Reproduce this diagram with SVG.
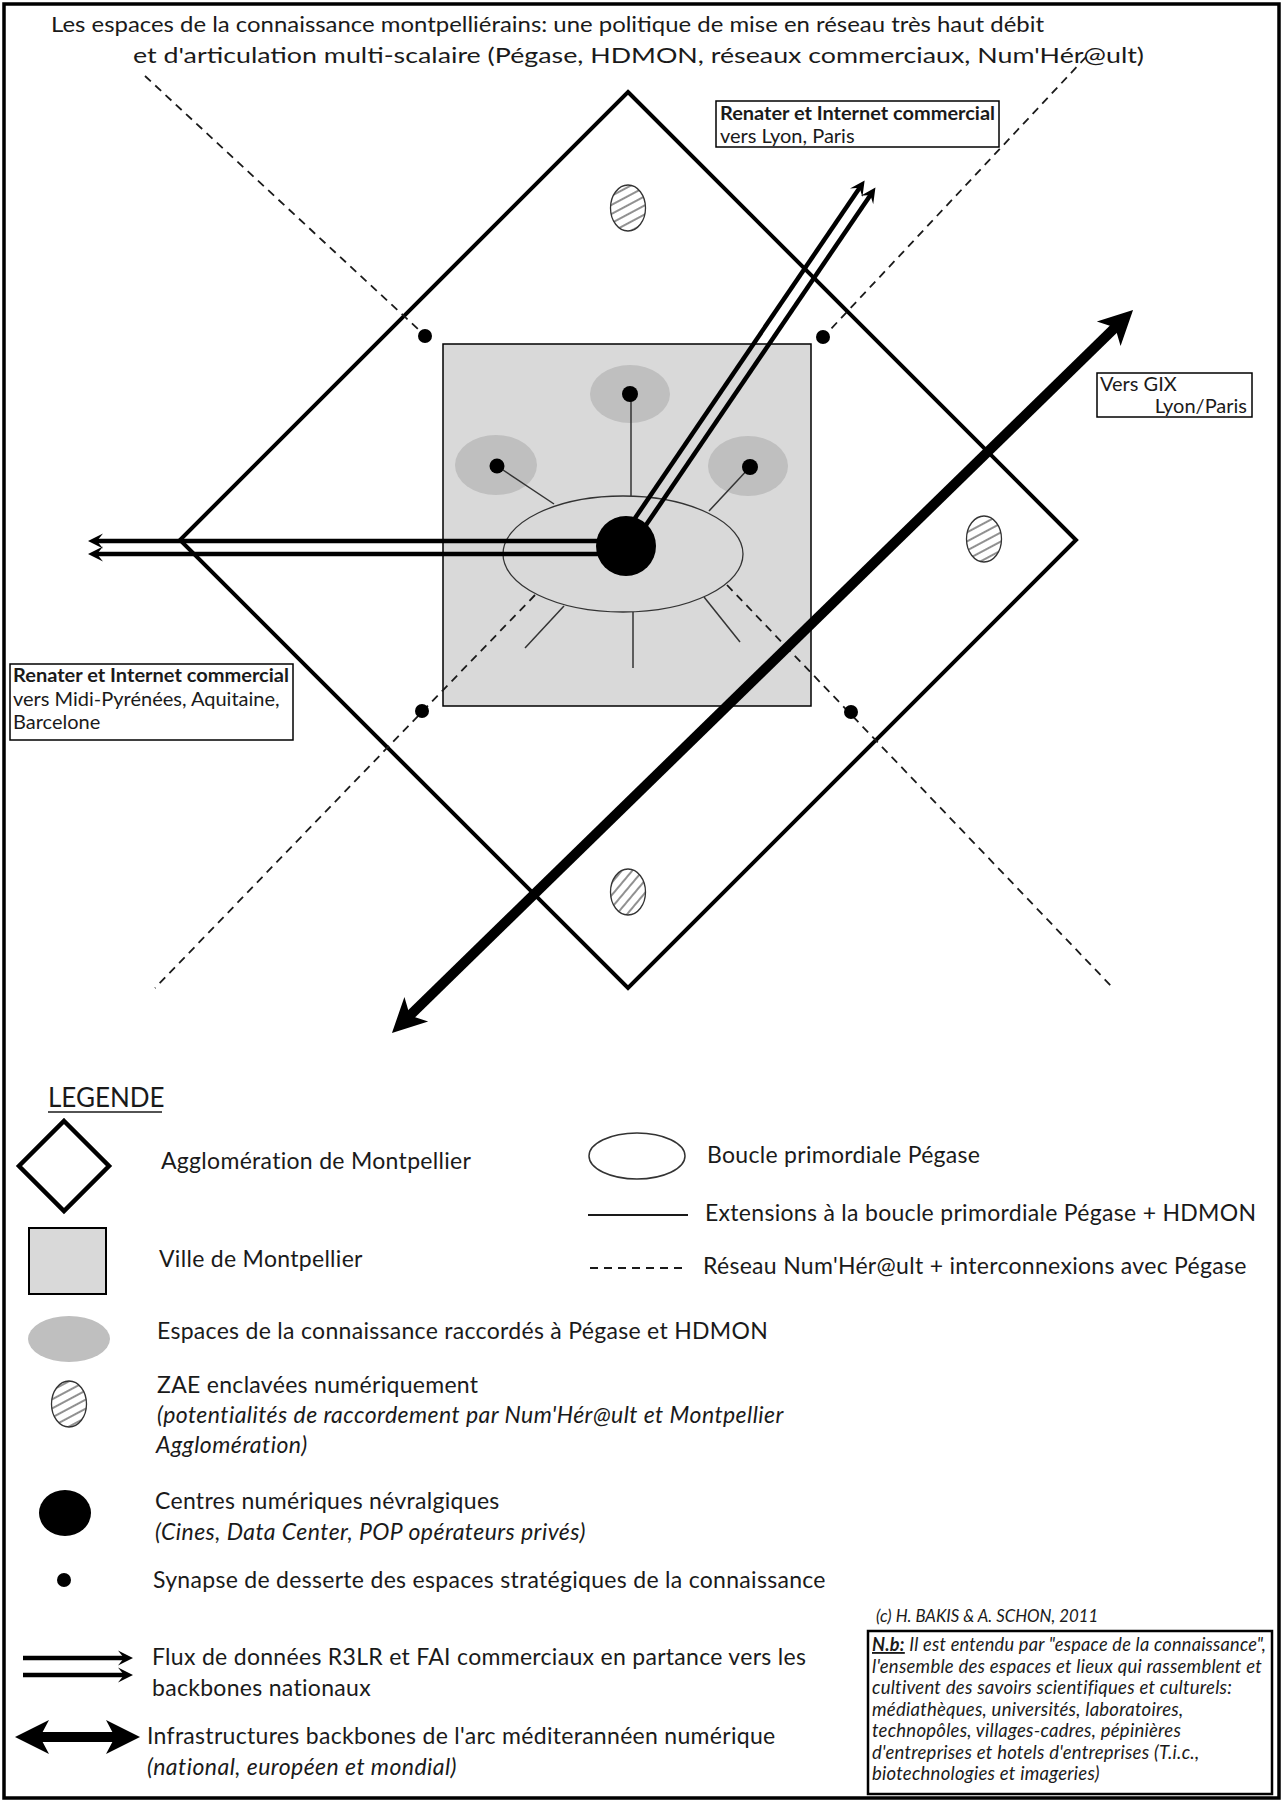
<svg xmlns="http://www.w3.org/2000/svg" width="1285" height="1802" viewBox="0 0 1285 1802">
<style>
text{font-family:Lato,"Open Sans","Liberation Sans",sans-serif;fill:#1a1a1a}
.t{font-size:21.5px}
.l{font-size:23px;letter-spacing:0.3px}
.li{font-size:23px;font-style:italic;letter-spacing:0.45px}
.b{font-size:20px}
.bb{font-size:19.5px;font-weight:bold}
.n{font-size:18.5px;font-style:italic;letter-spacing:0.25px}
.dash{stroke:#1a1a1a;stroke-width:1.8;stroke-dasharray:8 6;fill:none}
.spoke{stroke:#333;stroke-width:1.5}
.flux{stroke:#000;stroke-width:4.5;marker-end:url(#hs)}
.bone{stroke:#000;stroke-width:10;marker-start:url(#hl);marker-end:url(#hl)}
.zaeA{fill:url(#hatchA);stroke:#333;stroke-width:1.3}
.zaeB{fill:url(#hatchB);stroke:#333;stroke-width:1.3}
.ks{fill:#bfbfbf}
.box{fill:#fff;stroke:#000;stroke-width:1.5}
.dot{fill:#000}
</style>
<defs>
<pattern id="hatchA" patternUnits="userSpaceOnUse" width="8" height="8" patternTransform="rotate(-28)"><rect width="8" height="8" fill="#fff"/><line x1="0" y1="4" x2="8" y2="4" stroke="#222" stroke-width="1"/></pattern>
<pattern id="hatchB" patternUnits="userSpaceOnUse" width="8" height="8" patternTransform="rotate(-50)"><rect width="8" height="8" fill="#fff"/><line x1="0" y1="4" x2="8" y2="4" stroke="#222" stroke-width="1"/></pattern>
<marker id="hs" markerUnits="userSpaceOnUse" viewBox="-16 -9 18 18" markerWidth="18" markerHeight="18" refX="-7" refY="0" orient="auto"><path d="M0,0 L-15,-7.5 L-9,0 L-15,7.5 Z" fill="#000"/></marker>
<marker id="hl" markerUnits="userSpaceOnUse" viewBox="-36 -19 38 38" markerWidth="38" markerHeight="38" refX="-22" refY="0" orient="auto-start-reverse"><path d="M0,0 L-34,-17 L-25,0 L-34,17 Z" fill="#000"/></marker>
</defs>

<rect x="4" y="4" width="1275" height="1794" fill="#fff" stroke="#000" stroke-width="3.5"/>

<g id="title">
<text class="t" x="51" y="32" textLength="993" lengthAdjust="spacingAndGlyphs">Les espaces de la connaissance montpelliérains: une politique de mise en réseau très haut débit</text>
<text class="t" x="133" y="63" textLength="1011" lengthAdjust="spacingAndGlyphs">et d'articulation multi-scalaire (Pégase, HDMON, réseaux commerciaux, Num'Hér@ult)</text>
</g>

<g id="agglomeration">
<polygon points="628,92 1076,540 628,988 180,540" fill="none" stroke="#000" stroke-width="4"/>
</g>

<g id="ville">
<rect x="443" y="344" width="368" height="362" fill="#d9d9d9" stroke="#000" stroke-width="1.5"/>
</g>

<g id="espaces-connaissance">
<ellipse class="ks" cx="630" cy="394" rx="40" ry="29"/>
<ellipse class="ks" cx="496" cy="465" rx="41" ry="30"/>
<ellipse class="ks" cx="748" cy="466" rx="40" ry="30"/>
</g>

<g id="boucle-pegase">
<ellipse cx="623" cy="554" rx="120" ry="58" fill="#d9d9d9" stroke="#333" stroke-width="1.3"/>
</g>

<g id="connectors">
<line class="spoke" x1="631" y1="394" x2="631" y2="496"/>
<line class="spoke" x1="497" y1="466" x2="554" y2="504"/>
<line class="spoke" x1="750" y1="467" x2="709" y2="511"/>
<line class="spoke" x1="564" y1="606" x2="525" y2="648"/>
<line class="spoke" x1="633" y1="612" x2="633" y2="668"/>
<line class="spoke" x1="704" y1="597" x2="740" y2="642"/>
<line class="dash" x1="145" y1="76" x2="419" y2="330"/>
<line class="dash" x1="1086" y1="57" x2="829" y2="331"/>
<line class="dash" x1="535" y1="595" x2="155" y2="988"/>
<line class="dash" x1="727" y1="585" x2="1113" y2="988"/>
<line class="flux" x1="610" y1="541" x2="95" y2="541"/>
<line class="flux" x1="610" y1="554" x2="95" y2="554"/>
<line class="flux" x1="622.6" y1="536.4" x2="860.7" y2="186.2"/>
<line class="flux" x1="633.4" y1="543.6" x2="871.5" y2="193.4"/>
<line class="bone" x1="407.7" y1="1017.6" x2="1117.3" y2="325.4"/>
</g>

<g id="centre-numerique">
<circle class="dot" cx="626" cy="546" r="30"/>
</g>

<g id="points-connaissance">
<circle class="dot" cx="630" cy="394" r="8"/>
<circle class="dot" cx="497" cy="466" r="7.5"/>
<circle class="dot" cx="750" cy="467" r="8"/>
</g>

<g id="synapses">
<circle class="dot" cx="425" cy="336" r="7"/>
<circle class="dot" cx="823" cy="337" r="7"/>
<circle class="dot" cx="422" cy="711" r="7"/>
<circle class="dot" cx="851" cy="712" r="7"/>
</g>

<g id="zae">
<ellipse class="zaeA" cx="628" cy="208" rx="17.5" ry="23"/>
<ellipse class="zaeA" cx="984" cy="539" rx="17.5" ry="23"/>
<ellipse class="zaeB" cx="628" cy="892" rx="17.5" ry="23"/>
</g>

<g id="label-lyon-paris">
<rect class="box" x="716" y="101" width="283" height="46"/>
<text class="bb" x="720" y="120" textLength="275" lengthAdjust="spacingAndGlyphs">Renater et Internet commercial</text>
<text class="b" x="720" y="143">vers Lyon, Paris</text>
</g>

<g id="label-gix">
<rect class="box" x="1097" y="373" width="155" height="44"/>
<text class="b" x="1100" y="391">Vers GIX</text>
<text class="b" x="1247" y="413" text-anchor="end">Lyon/Paris</text>
</g>

<g id="label-sud-ouest">
<rect class="box" x="10" y="664" width="283" height="76"/>
<text class="bb" x="13" y="682" textLength="276" lengthAdjust="spacingAndGlyphs">Renater et Internet commercial</text>
<text class="b" x="13" y="706">vers Midi-Pyrénées, Aquitaine,</text>
<text class="b" x="13" y="729">Barcelone</text>
</g>

<g id="legende">
<text x="48" y="1107" style="font-size:26px">LEGENDE</text>
<line x1="48" y1="1112" x2="162" y2="1112" stroke="#1a1a1a" stroke-width="1.5"/>

<polygon points="64,1121 109,1166 64,1211 19,1166" fill="#fff" stroke="#000" stroke-width="4.5"/>
<text class="l" x="161" y="1169">Agglomération de Montpellier</text>

<rect x="29" y="1228" width="77" height="66" fill="#d9d9d9" stroke="#000" stroke-width="2"/>
<text class="l" x="159" y="1267">Ville de Montpellier</text>

<ellipse class="ks" cx="69" cy="1339" rx="41" ry="23"/>
<text class="l" x="157" y="1339">Espaces de la connaissance raccordés à Pégase et HDMON</text>

<ellipse class="zaeA" cx="69" cy="1404" rx="17.5" ry="23"/>
<text class="l" x="157" y="1393">ZAE enclavées numériquement</text>
<text class="li" x="157" y="1423">(potentialités de raccordement par Num'Hér@ult et Montpellier</text>
<text class="li" x="156" y="1453">Agglomération)</text>

<ellipse class="dot" cx="65" cy="1513" rx="26" ry="23"/>
<text class="l" x="155" y="1509">Centres numériques névralgiques</text>
<text class="li" x="155" y="1540">(Cines, Data Center, POP opérateurs privés)</text>

<circle class="dot" cx="64" cy="1580" r="7"/>
<text class="l" x="153" y="1588">Synapse de desserte des espaces stratégiques de la connaissance</text>

<line class="flux" x1="23" y1="1658" x2="126" y2="1658"/>
<line class="flux" x1="23" y1="1675" x2="126" y2="1675"/>
<text class="l" x="152" y="1665">Flux de données R3LR et FAI commerciaux en partance vers les</text>
<text class="l" x="152" y="1696">backbones nationaux</text>

<line class="bone" x1="37" y1="1737" x2="118" y2="1737"/>
<text class="l" x="147" y="1744">Infrastructures backbones de l'arc méditerannéen numérique</text>
<text class="li" x="147" y="1775">(national, européen et mondial)</text>

<ellipse cx="637" cy="1156" rx="48" ry="23" fill="#fff" stroke="#333" stroke-width="1.5"/>
<text class="l" x="707" y="1163">Boucle primordiale Pégase</text>
<line x1="588" y1="1215" x2="688" y2="1215" stroke="#1a1a1a" stroke-width="1.8"/>
<text class="l" x="705" y="1221">Extensions à la boucle primordiale Pégase + HDMON</text>
<line class="dash" x1="590" y1="1268" x2="687" y2="1268"/>
<text class="l" x="703" y="1274">Réseau Num'Hér@ult + interconnexions avec Pégase</text>
</g>

<g id="note">
<text class="n" x="876" y="1622" style="font-size:16.8px;letter-spacing:0">(c) H. BAKIS &amp; A. SCHON, 2011</text>
<rect x="868" y="1631" width="404" height="163" fill="#fff" stroke="#000" stroke-width="2.5"/>
<text class="n" x="872" y="1651" textLength="394" lengthAdjust="spacingAndGlyphs"><tspan font-weight="bold" text-decoration="underline">N.b:</tspan> Il est entendu par "espace de la connaissance",</text>
<text class="n" x="872" y="1672.5" textLength="390" lengthAdjust="spacingAndGlyphs">l'ensemble des espaces et lieux qui rassemblent et</text>
<text class="n" x="872" y="1694">cultivent des savoirs scientifiques et culturels:</text>
<text class="n" x="872" y="1715.5">médiathèques, universités, laboratoires,</text>
<text class="n" x="872" y="1737">technopôles, villages-cadres, pépinières</text>
<text class="n" x="872" y="1758.5">d'entreprises et hotels d'entreprises (T.i.c.,</text>
<text class="n" x="872" y="1780">biotechnologies et imageries)</text>
</g>
</svg>
